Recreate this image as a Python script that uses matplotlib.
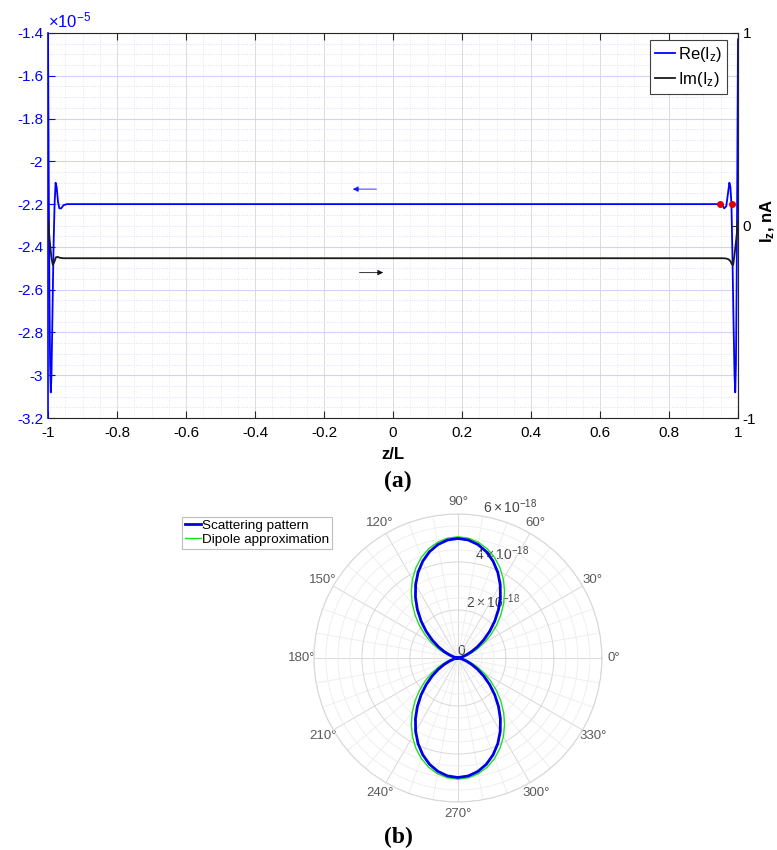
import numpy as np
import matplotlib
matplotlib.use('Agg')
import matplotlib.pyplot as plt
from matplotlib.ticker import MultipleLocator, FuncFormatter, FixedLocator

plt.rcParams['font.family'] = ['Liberation Sans', 'DejaVu Sans']
plt.rcParams['axes.unicode_minus'] = False
plt.rcParams['mathtext.fontset'] = 'custom'
plt.rcParams['mathtext.rm'] = 'Liberation Sans'
plt.rcParams['mathtext.it'] = 'Liberation Sans:italic'
plt.rcParams['mathtext.bf'] = 'Liberation Sans:bold'

# ---- panel (a): current along the wire ----
# Re(I_z) in units of 1e-5 (left axis)
z_re = [-1.0, -0.998, -0.996, -0.994, -0.992, -0.990, -0.987, -0.984, -0.981, -0.978,
        -0.975, -0.971, -0.967, -0.962, -0.955, -0.945, 0.0,
        0.945, 0.955, 0.960, 0.966, 0.971, 0.975, 0.978, 0.981, 0.984, 0.987,
        0.990, 0.992, 0.994, 0.996, 0.998, 1.0]
re_iz = [-1.43, -2.05, -2.6, -2.95, -3.08, -3.0, -2.7, -2.4, -2.2, -2.1,
         -2.12, -2.19, -2.22, -2.22, -2.205, -2.2, -2.2,
         -2.2, -2.205, -2.22, -2.21, -2.15, -2.1, -2.12, -2.2, -2.45, -2.75,
         -3.0, -3.08, -2.95, -2.6, -2.05, -1.43]

# Im(I_z) on right axis
z_im = [-1.0, -0.995, -0.990, -0.986, -0.982, -0.977, -0.972, -0.965, -0.955, 0.0,
        0.955, 0.965, 0.972, 0.978, 0.982, 0.986, 0.990, 0.995, 1.0]
im_iz = [0.03, -0.08, -0.17, -0.205, -0.19, -0.165, -0.163, -0.168, -0.17, -0.17,
         -0.17, -0.171, -0.175, -0.185, -0.2, -0.205, -0.15, -0.07, 0.02]

# marked points
z_dots = [0.948, 0.983]
re_dots = [-2.2, -2.2]

# ---- panel (b): scattering pattern, r in units of 1e-18 ----
theta_deg = np.arange(0, 361, 5)
r_scatter = [0, 0.014, 0.075, 0.194, 0.379, 0.630, 0.944, 1.312, 1.725, 2.168,
             2.627, 3.085, 3.526, 3.933, 4.289, 4.583, 4.800, 4.935, 4.98,
             4.935, 4.800, 4.583, 4.289, 3.933, 3.526, 3.085, 2.627, 2.168, 1.725,
             1.312, 0.944, 0.630, 0.379, 0.194, 0.075, 0.014, 0,
             0.014, 0.075, 0.194, 0.379, 0.630, 0.944, 1.312, 1.725, 2.168,
             2.627, 3.085, 3.526, 3.933, 4.289, 4.583, 4.800, 4.935, 4.98,
             4.935, 4.800, 4.583, 4.289, 3.933, 3.526, 3.085, 2.627, 2.168, 1.725,
             1.312, 0.944, 0.630, 0.379, 0.194, 0.075, 0.014, 0]
r_dipole = [0, 0.038, 0.152, 0.338, 0.591, 0.902, 1.263, 1.661, 2.087, 2.525,
            2.963, 3.389, 3.788, 4.148, 4.459, 4.712, 4.898, 5.012, 5.05,
            5.012, 4.898, 4.712, 4.459, 4.148, 3.788, 3.389, 2.963, 2.525, 2.087,
            1.661, 1.263, 0.902, 0.591, 0.338, 0.152, 0.038, 0,
            0.038, 0.152, 0.338, 0.591, 0.902, 1.263, 1.661, 2.087, 2.525,
            2.963, 3.389, 3.788, 4.148, 4.459, 4.712, 4.898, 5.012, 5.05,
            5.012, 4.898, 4.712, 4.459, 4.148, 3.788, 3.389, 2.963, 2.525, 2.087,
            1.661, 1.263, 0.902, 0.591, 0.338, 0.152, 0.038, 0]
r_ticks = [0, 2, 4, 6]
r_ticklabels = ['0', r'$2\times10^{-18}$', r'$4\times10^{-18}$', r'$6\times10^{-18}$']

BLUE = '#0000ff'
DARK = '#262626'

fig = plt.figure(figsize=(7.77, 8.5), dpi=100)

# ---------------- top panel ----------------
ax = fig.add_axes([0.0618, 0.5082, 0.888, 0.453])
ax2 = ax.twinx()

ax.set_xlim(-1, 1)
ax.set_ylim(-3.2, -1.4)
ax.xaxis.set_major_locator(MultipleLocator(0.2))
ax.xaxis.set_minor_locator(MultipleLocator(0.05))
ax.yaxis.set_major_locator(MultipleLocator(0.2))
ax.yaxis.set_minor_locator(MultipleLocator(0.05))
fmt = FuncFormatter(lambda v, p: f'{v:g}' if abs(v) > 1e-9 else '0')
ax.xaxis.set_major_formatter(fmt)
ax.yaxis.set_major_formatter(fmt)

ax.xaxis.grid(True, which='major', color='#dcdcdc', lw=0.7)
ax.xaxis.grid(True, which='minor', color='#e2e2e2', lw=0.6, ls=':')
ax.yaxis.grid(True, which='major', color='#d2d2fa', lw=0.8)
ax.yaxis.grid(True, which='minor', color='#dcdcfa', lw=0.7, ls=':')
ax.set_axisbelow(True)

ax.tick_params(axis='both', which='major', direction='in', length=5, labelsize=11,
               top=True, width=0.8)
ax.tick_params(axis='x', which='major', pad=6)
ax.tick_params(axis='both', which='minor', length=0)
ax.tick_params(axis='y', colors=BLUE)
ax.tick_params(axis='x', colors=DARK, labelcolor='black')
for s in ['top', 'bottom', 'right']:
    ax.spines[s].set_color(DARK)
ax.spines['left'].set_color(BLUE)
ax.spines['left'].set_linewidth(1.2)

ax2.set_ylim(-1, 1)
ax2.yaxis.set_major_locator(FixedLocator([-1, 0, 1]))
ax2.yaxis.set_major_formatter(fmt)
ax2.tick_params(axis='y', direction='in', length=5, labelsize=11, colors=DARK,
                labelcolor='black')
for s in ['top', 'bottom', 'left']:
    ax2.spines[s].set_visible(False)
ax2.spines['right'].set_color(DARK)

l_re, = ax.plot(z_re, re_iz, color=BLUE, lw=1.3)
l_im, = ax2.plot(z_im, im_iz, color='#1a1a1a', lw=1.3)
ax.plot(z_dots, re_dots, 'o', color='#e00000', ms=4, zorder=5)

ax.annotate('', xy=(-0.125, -2.13), xytext=(-0.04, -2.13),
            arrowprops=dict(arrowstyle='-|>', color=BLUE, lw=0.7,
                            mutation_scale=8, alpha=0.8))
ax.annotate('', xy=(-0.02, -2.52), xytext=(-0.105, -2.52),
            arrowprops=dict(arrowstyle='-|>', color='black', lw=0.7,
                            mutation_scale=8, alpha=0.8))

ax.text(0.0, 1.006, r'$\times10^{-5}$', transform=ax.transAxes, color=BLUE,
        fontsize=12, ha='left', va='bottom')
ax.set_xlabel('z/L', fontsize=12, fontweight='bold', labelpad=5)
fig.text(759 / 777, 1 - 221 / 850, r'I$_\mathbf{z}$, nA', rotation=90,
         ha='left', va='center', fontsize=12, fontweight='bold')

leg = ax2.legend([l_re, l_im], [r'Re(I$_\mathrm{z}$)', r'Im(I$_\mathrm{z}$)'],
                 loc='upper right', bbox_to_anchor=(0.984, 0.982),
                 borderaxespad=0, fontsize=12, handlelength=1.2,
                 handletextpad=0.15, fancybox=False, framealpha=1,
                 edgecolor='#404040', borderpad=0.3, labelspacing=0.35)
leg.get_frame().set_linewidth(0.8)

fig.text(398 / 777, 1 - 481 / 850, '(a)', fontsize=17, fontweight='bold',
         family='Liberation Serif', ha='center', va='center')

# ---------------- bottom panel ----------------
pax = fig.add_axes([0.404, 0.0565, 0.3707, 0.3388], projection='polar')
th = np.deg2rad(theta_deg)
p1, = pax.plot(th, r_scatter, color='#0000e6', lw=2.0, zorder=4)
p2, = pax.plot(th, r_dipole, color='#22dd22', lw=1.0, zorder=3)

pax.set_ylim(0, 6)
pax.set_yticks(r_ticks)
pax.set_yticklabels(r_ticklabels)
pax.set_rlabel_position(80)
pax.yaxis.set_minor_locator(MultipleLocator(0.5))
pax.set_xticks(np.deg2rad(np.arange(0, 360, 30)))
pax.set_xticklabels([f'{d}°' for d in range(0, 360, 30)])
pax.xaxis.set_minor_locator(FixedLocator(np.deg2rad(np.arange(0, 360, 10))))
pax.grid(True, which='major', color='#d8d8d8', lw=0.7)
pax.grid(True, which='minor', color='#ececec', lw=0.6)
pax.tick_params(axis='x', which='major', labelsize=9.5, colors='#5a5a5a', pad=-2)
pax.tick_params(axis='y', which='major', labelsize=10, colors='#444444')
pax.tick_params(which='minor', length=0)
pax.spines['polar'].set_color('#d8d8d8')
pax.spines['polar'].set_linewidth(0.8)

leg2 = fig.legend([p1, p2], ['Scattering pattern', 'Dipole approximation'],
                  loc='upper left', bbox_to_anchor=(182 / 777, 1 - 517 / 850),
                  borderaxespad=0, fontsize=9.7, handlelength=1.2,
                  handletextpad=0.1, fancybox=False, framealpha=1,
                  edgecolor='#bdbdbd', borderpad=0.2, labelspacing=0.1)
leg2.get_frame().set_linewidth(0.8)

fig.text(398 / 777, 1 - 837 / 850, '(b)', fontsize=17, fontweight='bold',
         family='Liberation Serif', ha='center', va='center')

fig.savefig('out.png', dpi=100)
